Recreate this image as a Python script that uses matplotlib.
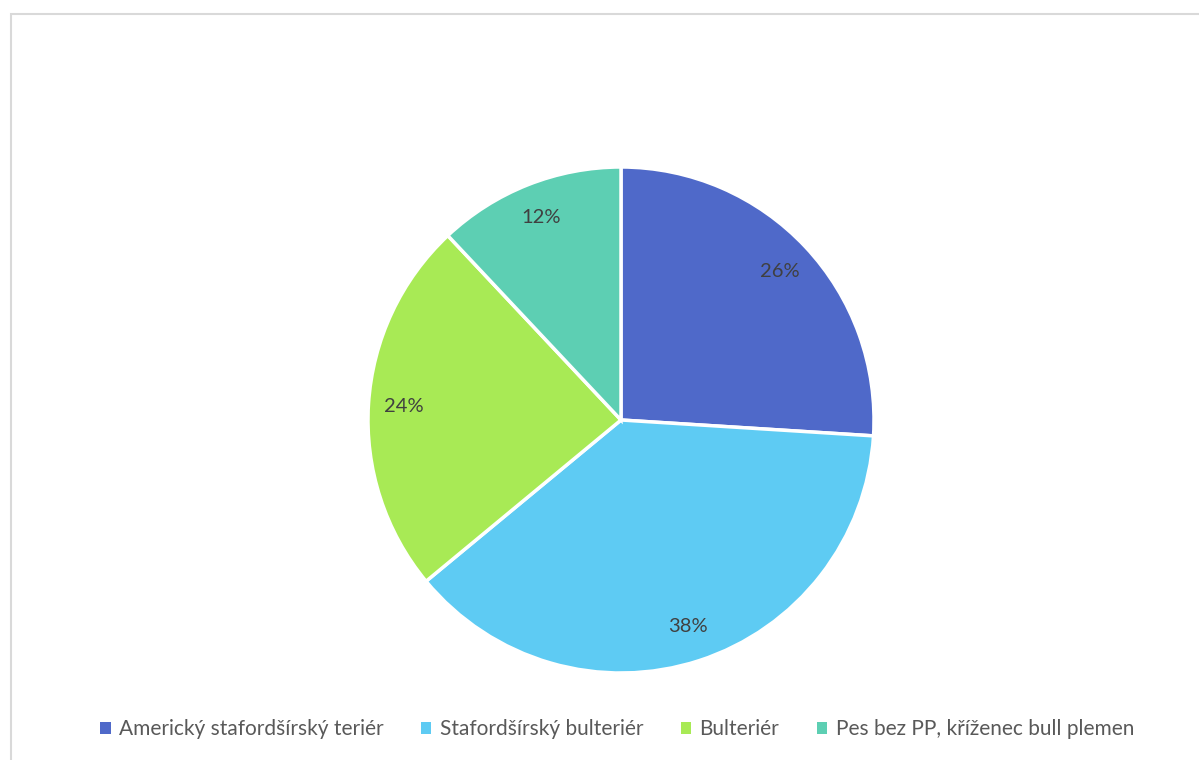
import matplotlib.pyplot as plt
from matplotlib.patches import Rectangle

plt.rcParams['font.family'] = ['Lato', 'DejaVu Sans']

labels = ['Americký stafordšírský teriér', 'Stafordšírský bulteriér', 'Bulteriér',
          'Pes bez PP, kříženec bull plemen']
values = [26, 38, 24, 12]
colors = ['#4F69C9', '#5ECBF3', '#A8EA55', '#5DCFB3']

fig = plt.figure(figsize=(11.99, 7.6), dpi=100)
# light frame around the chart area
fig.patches.append(Rectangle((11 / 1199, -0.1), 1.2, (760 - 14) / 760 + 0.1,
                             transform=fig.transFigure, fill=False,
                             edgecolor='#D9D9D9', linewidth=1.5))

ax = fig.add_axes([(621 - 253) / 1199, (760 - 420 - 253) / 760, 506 / 1199, 506 / 760])
wedges, texts, autotexts = ax.pie(values, colors=colors, startangle=90, counterclock=False,
                                  autopct='%1.0f%%', pctdistance=0.86, radius=1,
                                  wedgeprops=dict(edgecolor='white', linewidth=2.5),
                                  textprops=dict(color='#404040', fontsize=14.5))
ax.set_xlim(-1, 1)
ax.set_ylim(-1, 1)
ax.set_aspect('equal')

leg = fig.legend(wedges, labels, loc='center', bbox_to_anchor=(617 / 1199, 1 - 729 / 760),
                 ncol=4, frameon=False, fontsize=15, handlelength=0.5, handleheight=0.5,
                 handletextpad=0.4, columnspacing=1.8, labelcolor='#595959')
for h in leg.legend_handles:
    h.set_edgecolor('none')

fig.savefig('out.png', dpi=100)
